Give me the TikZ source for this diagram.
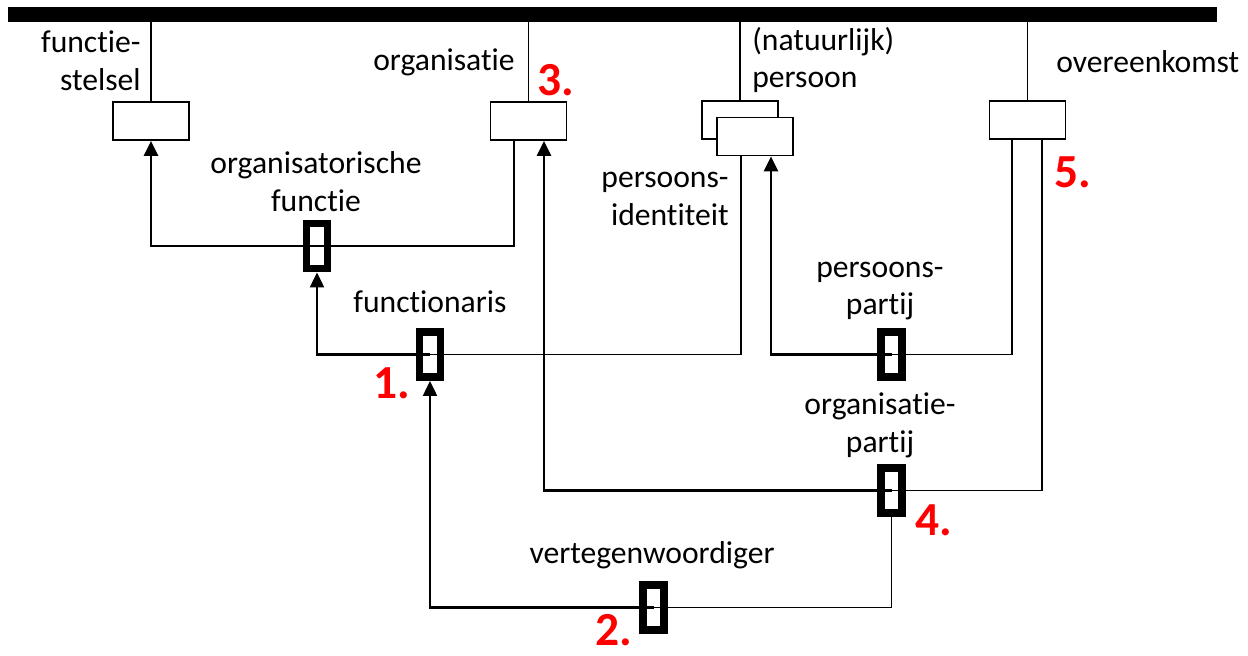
\documentclass[tikz,border=0pt]{standalone}
\usepackage{fontspec}
\setmainfont{Carlito}[Ligatures=NoCommon]
\usetikzlibrary{arrows.meta}
\begin{document}
\begin{tikzpicture}[x=0.02cm,y=-0.02cm]
		\tikzstyle{entity}=[rectangle,draw=black,line width=1pt,fill=white,minimum width=1.52cm,minimum height=0.76cm,inner sep=0pt]
		\tikzstyle{fact}=[rectangle,draw=black,line width=4.5pt,minimum width=0.42cm,minimum height=0.9cm,inner sep=0pt]
		\tikzstyle{lbl}=[font=\fontsize{18}{21.5}\selectfont,inner sep=0pt]
		\tikzstyle{nr}=[font=\fontsize{27}{30}\selectfont\bfseries,text=red,inner sep=0pt]
		\tikzstyle{line}=[draw,line width=1pt]
		\tikzstyle{edge}=[draw,line width=1.3pt,-{Triangle[width=0.28cm,length=0.3cm]}]
		\useasboundingbox (0,0) rectangle (1248,656);
		\begin{scope}
			% top bar and entity types
			\node [fill=black,minimum width=24.18cm,minimum height=0.3cm,inner sep=0pt] (bar) at (612.5,14.5) {};
			\node [entity] (fs) at (151,121) {};
			\node [entity] (org) at (528.5,121) {};
			\node [entity] (pers) at (740,120) {};
			\node [entity] (pid) at (755,136.5) {};
			\node [entity] (ovk) at (1027.5,120) {};
			\path[line] (fs.north) -- (fs.north |- bar.south);
			\path[line] (org.north) -- (org.north |- bar.south);
			\path[line] (pers.north) -- (pers.north |- bar.south);
			\path[line] (ovk.north) -- (ovk.north |- bar.south);
			% fact types
			\node [fact] (of) at (317,246) {};
			\node [fact] (fn) at (430,354.5) {};
			\node [fact] (pp) at (891.5,354.5) {};
			\node [fact] (op) at (891.5,490.5) {};
			\node [fact] (vw) at (653.5,607.5) {};
			\path[edge] (of.center) -| (fs.south);
			\path[line] (of.center) -| ([xshift=-0.29cm]org.south);
			\path[edge] (fn.center) -| (of.south);
			\path[line] (fn.center) -| ([xshift=-0.28cm]pid.south);
			\path[edge] (pp.center) -| ([xshift=0.32cm]pid.south);
			\path[line] (pp.center) -| ([xshift=-0.31cm]ovk.south);
			\path[edge] (op.center) -| ([xshift=0.31cm]org.south);
			\path[line] (op.center) -| ([xshift=0.29cm]ovk.south);
			\path[edge] (vw.center) -| (fn.south);
			\path[line] (vw.center) -| (op.south);
			% labels
			\node [lbl,align=right,anchor=east] (lfs) at (141,61) {functie-\\stelsel};
			\node [lbl] (lorg) at (444,62) {organisatie};
			\node [lbl,align=left,anchor=west] (lpers) at (752,60) {(natuurlijk)\\persoon};
			\node [lbl,anchor=west] (lovk) at (1056,62) {overeenkomst};
			\node [lbl,align=center] (lof) at (316,182) {organisatorische\\functie};
			\node [lbl,align=right,anchor=east] (lpid) at (729,199) {persoons-\\identiteit};
			\node [lbl] (lfn) at (430,302) {functionaris};
			\node [lbl,align=center] (lpp) at (880,291) {persoons-\\partij};
			\node [lbl,align=center] (lop) at (880,425) {organisatie-\\partij};
			\node [lbl] (lvw) at (652,555) {vertegenwoordiger};
			\node [nr] (n1) at (392,383) {1.};
			\node [nr] (n2) at (614,630) {2.};
			\node [nr] (n3) at (556,80) {3.};
			\node [nr] (n4) at (934,520) {4.};
			\node [nr] (n5) at (1073,172) {5.};
		\end{scope}
\end{tikzpicture}
\end{document}
